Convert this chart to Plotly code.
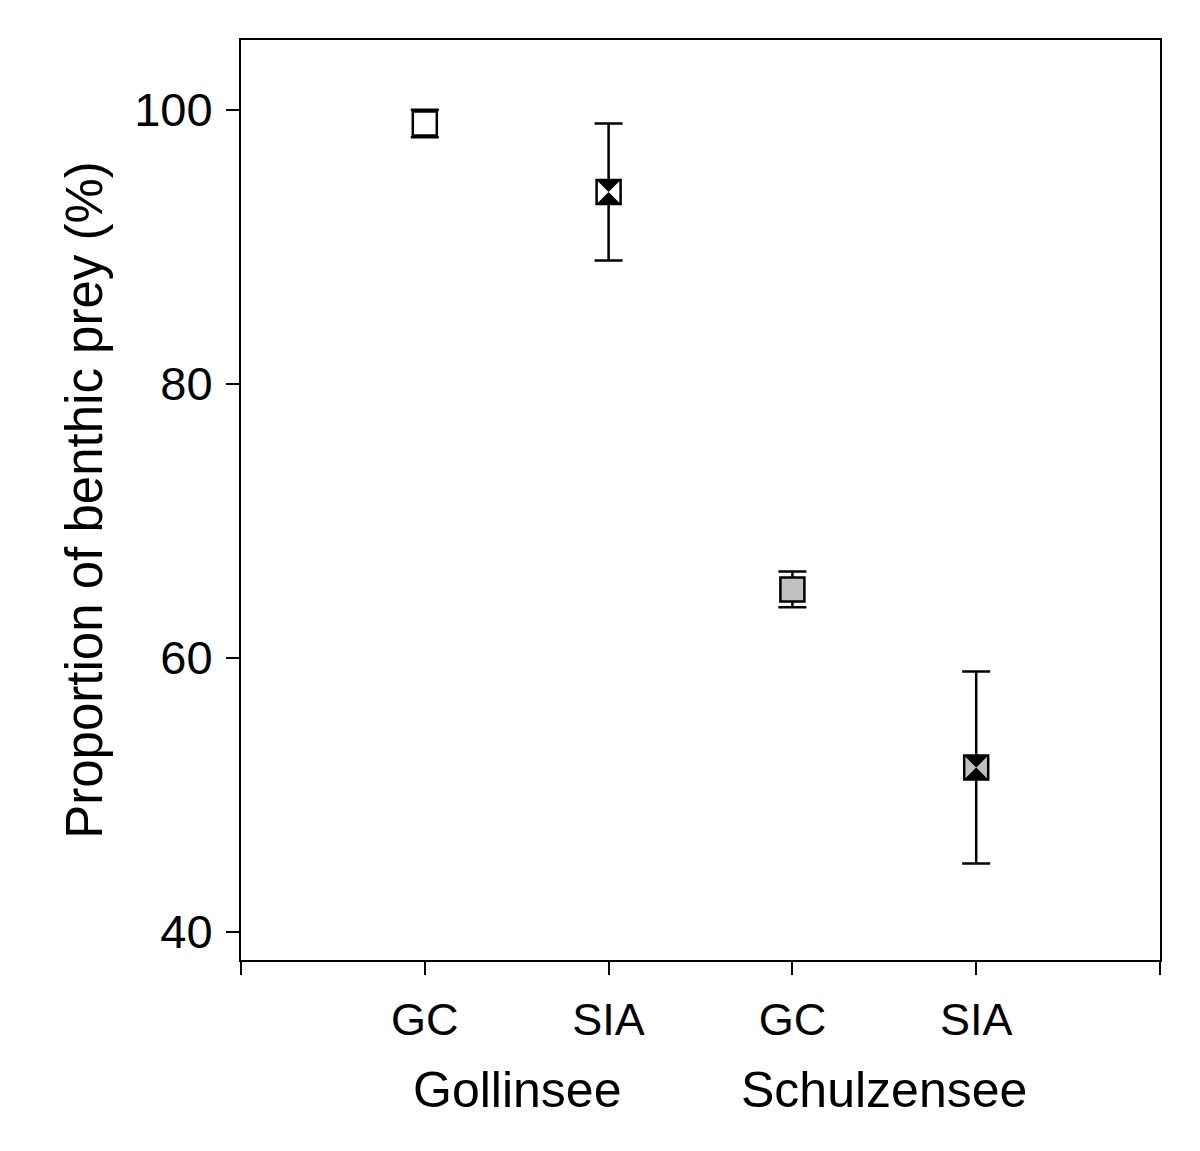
import plotly.graph_objects as go

# data
methods = ["GC", "SIA", "GC", "SIA"]
lakes = ["Gollinsee", "Schulzensee"]
positions = [1, 2, 3, 4]
means = [99, 94, 65, 52]
err_up = [1, 5, 1.3, 7]
err_down = [1, 5, 1.3, 7]
fills = ["white", "white", "#c0c0c0", "#c0c0c0"]
is_sia = [False, True, False, True]

FONT = "Liberation Sans, Arial, sans-serif"

fig = go.Figure()

fig.add_trace(go.Scatter(
    x=positions, y=means, mode="markers",
    marker=dict(symbol="square", size=24, color=fills,
                line=dict(color="black", width=2.5)),
    error_y=dict(type="data", array=err_up, arrayminus=err_down,
                 color="black", thickness=2.5, width=14),
    showlegend=False, hoverinfo="skip",
))

# black hourglass inside the SIA squares
sia_x = [p for p, s in zip(positions, is_sia) if s]
sia_y = [m for m, s in zip(means, is_sia) if s]
fig.add_trace(go.Scatter(
    x=sia_x, y=sia_y, mode="markers",
    marker=dict(symbol="hourglass", size=24, color="black",
                line=dict(color="black", width=0)),
    showlegend=False, hoverinfo="skip",
))

for i, lake in enumerate(lakes):
    fig.add_annotation(x=1.5 + 2 * i, y=0, xref="x", yref="paper",
                       yanchor="middle", yshift=-130, text=lake, showarrow=False,
                       font=dict(size=50, color="black", family=FONT))

fig.update_layout(
    width=1200, height=1151,
    paper_bgcolor="white", plot_bgcolor="white",
    margin=dict(l=233, r=48, t=32, b=199),
    font=dict(family=FONT, color="black", size=44),
    xaxis=dict(
        range=[0, 5], tickvals=[0] + positions + [5],
        ticktext=[""] + methods + [""],
        showline=True, linecolor="black", linewidth=2, mirror=True,
        ticks="outside", ticklen=13, tickwidth=2, tickcolor="black",
        showgrid=False, zeroline=False, ticklabelstandoff=6,
        tickfont=dict(size=45),
    ),
    yaxis=dict(
        range=[37.95, 105.1], tickvals=[40, 60, 80, 100],
        showline=True, linecolor="black", linewidth=2, mirror=True,
        ticks="outside", ticklen=13, tickwidth=2, tickcolor="black",
        showgrid=False, zeroline=False, ticklabelstandoff=4,
        tickfont=dict(size=47),
        title=dict(text="Proportion of benthic prey (%)", standoff=15,
                   font=dict(size=51)),
    ),
)

fig.write_html("out.html")
